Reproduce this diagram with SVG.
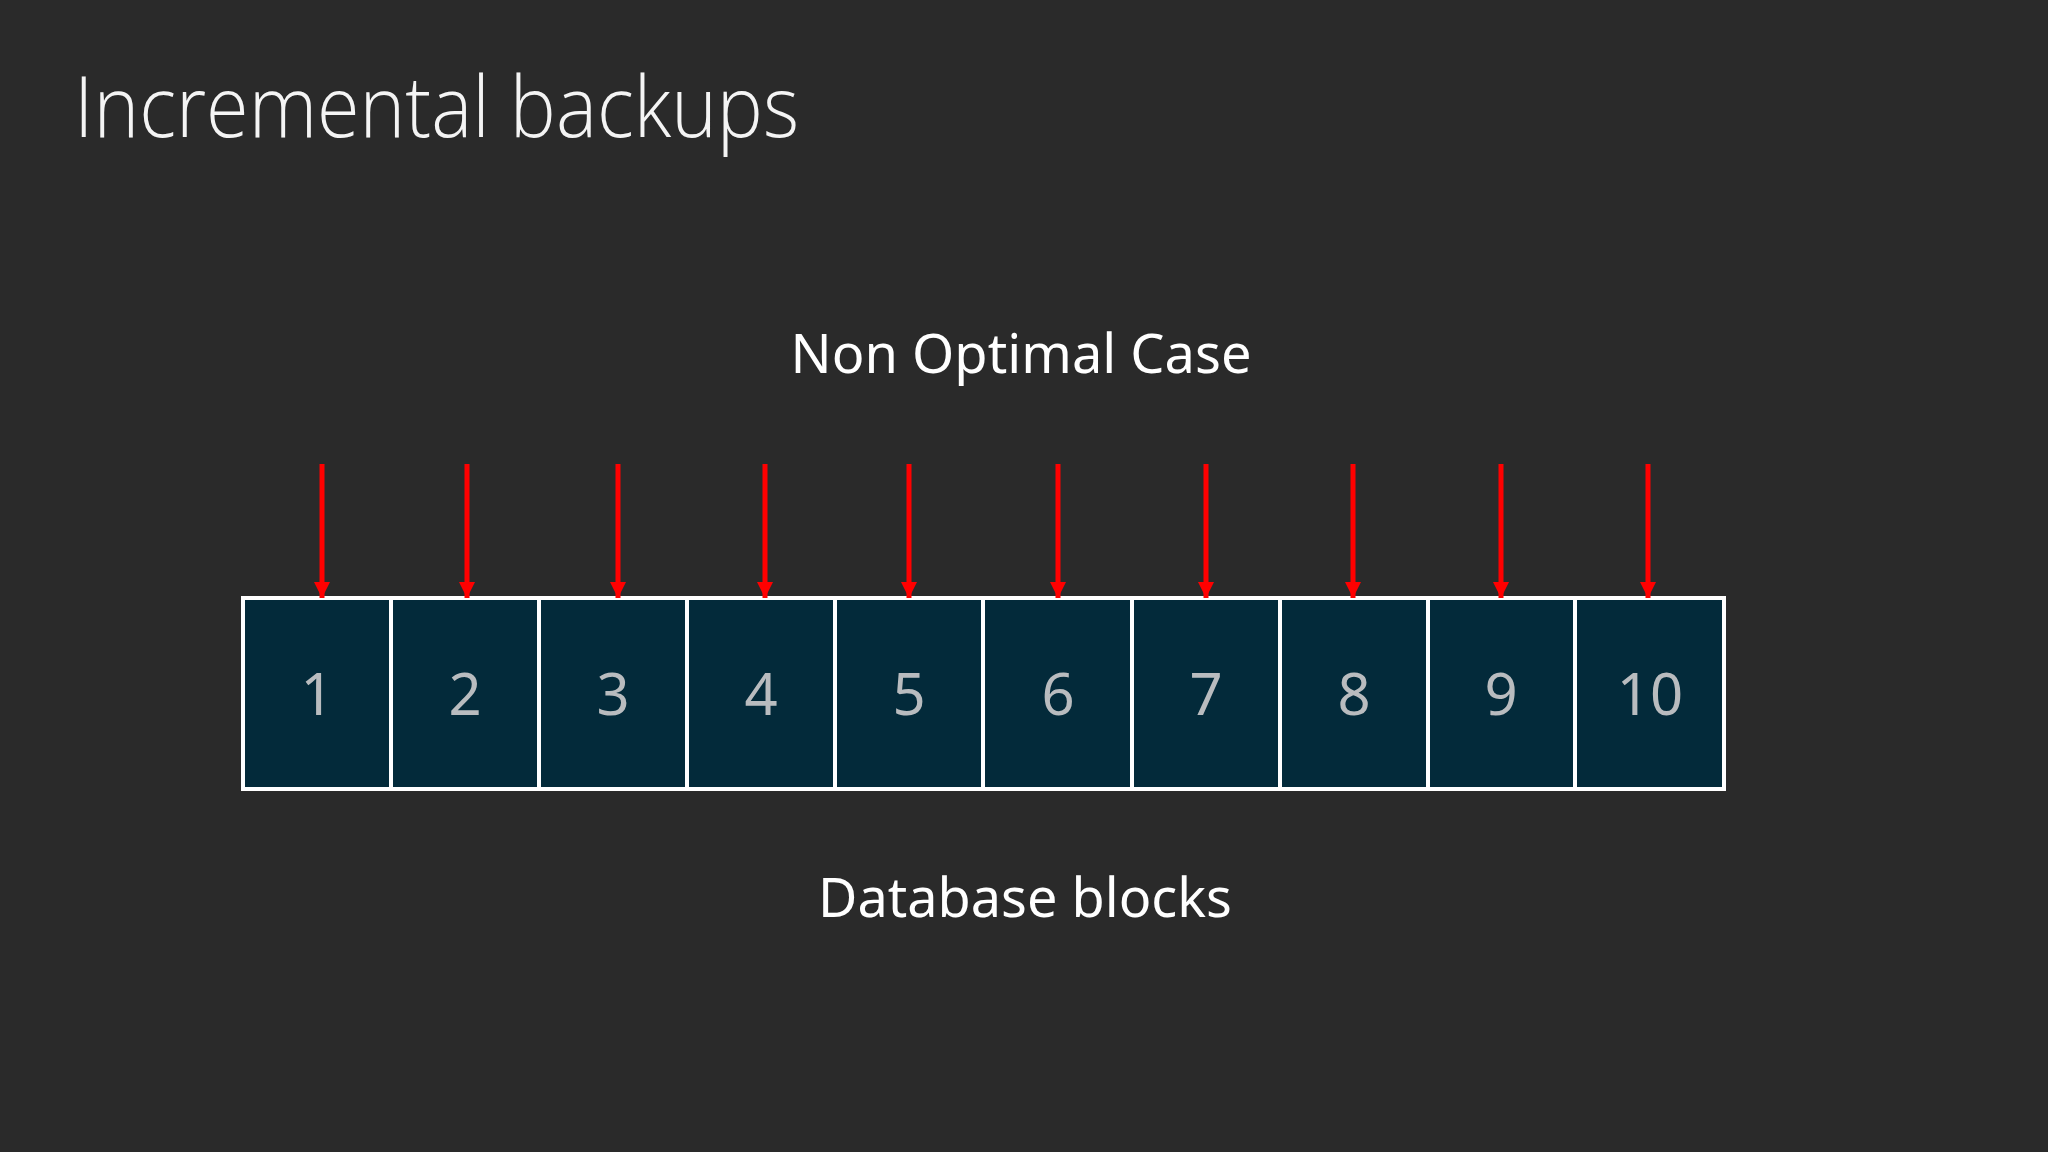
<svg xmlns="http://www.w3.org/2000/svg" width="2048" height="1152" viewBox="0 0 2048 1152">
  <defs>
    <style>
      .title { font-family: "Open Sans", "Noto Sans", "Liberation Sans", sans-serif; font-weight: 300; font-size: 84px; fill: #f4f4f4; }
      .label { font-family: "Noto Sans", "Open Sans", "Liberation Sans", sans-serif; font-size: 54px; fill: #ffffff; text-anchor: middle; }
      .block rect { fill: #032a3a; stroke: #ffffff; stroke-width: 4; }
      .block text { font-family: "Noto Sans", "Open Sans", "Liberation Sans", sans-serif; font-size: 58px; fill: #b9bcbf; text-anchor: middle; }
      .arrow { stroke: #ff0000; stroke-width: 5; fill: none; }
    </style>
    <marker id="head" markerUnits="userSpaceOnUse" markerWidth="16" markerHeight="16" refX="16" refY="8" orient="auto" viewBox="0 0 16 16">
      <path d="M0,0 L16,8 L0,16 Z" fill="#ff0000"/>
    </marker>
  </defs>
  <rect x="0" y="0" width="2048" height="1152" fill="#2a2a2a"/>

  <text class="title" x="74" y="137" textLength="725" lengthAdjust="spacingAndGlyphs">Incremental backups</text>
  <text class="label" x="1021" y="373" textLength="461" lengthAdjust="spacingAndGlyphs">Non Optimal Case</text>
  <text class="label" x="1025" y="917" textLength="414" lengthAdjust="spacingAndGlyphs">Database blocks</text>

  <g id="block1" class="block"><rect x="243" y="598" width="148" height="191"/><text x="317" y="715">1</text></g>
  <g id="block2" class="block"><rect x="391" y="598" width="148" height="191"/><text x="465" y="715">2</text></g>
  <g id="block3" class="block"><rect x="539" y="598" width="148" height="191"/><text x="613" y="715">3</text></g>
  <g id="block4" class="block"><rect x="687" y="598" width="148" height="191"/><text x="761" y="715">4</text></g>
  <g id="block5" class="block"><rect x="835" y="598" width="148" height="191"/><text x="909" y="715">5</text></g>
  <g id="block6" class="block"><rect x="983" y="598" width="149" height="191"/><text x="1058" y="715">6</text></g>
  <g id="block7" class="block"><rect x="1132" y="598" width="148" height="191"/><text x="1206" y="715">7</text></g>
  <g id="block8" class="block"><rect x="1280" y="598" width="148" height="191"/><text x="1354" y="715">8</text></g>
  <g id="block9" class="block"><rect x="1428" y="598" width="147" height="191"/><text x="1501" y="715">9</text></g>
  <g id="block10" class="block"><rect x="1575" y="598" width="149" height="191"/><text x="1650" y="715">10</text></g>

  <g id="connectors">
    <line class="arrow" x1="322" y1="464" x2="322" y2="598" marker-end="url(#head)"/>
    <line class="arrow" x1="467" y1="464" x2="467" y2="598" marker-end="url(#head)"/>
    <line class="arrow" x1="618" y1="464" x2="618" y2="598" marker-end="url(#head)"/>
    <line class="arrow" x1="765" y1="464" x2="765" y2="598" marker-end="url(#head)"/>
    <line class="arrow" x1="909" y1="464" x2="909" y2="598" marker-end="url(#head)"/>
    <line class="arrow" x1="1058" y1="464" x2="1058" y2="598" marker-end="url(#head)"/>
    <line class="arrow" x1="1206" y1="464" x2="1206" y2="598" marker-end="url(#head)"/>
    <line class="arrow" x1="1353" y1="464" x2="1353" y2="598" marker-end="url(#head)"/>
    <line class="arrow" x1="1501" y1="464" x2="1501" y2="598" marker-end="url(#head)"/>
    <line class="arrow" x1="1648" y1="464" x2="1648" y2="598" marker-end="url(#head)"/>
  </g>
</svg>
